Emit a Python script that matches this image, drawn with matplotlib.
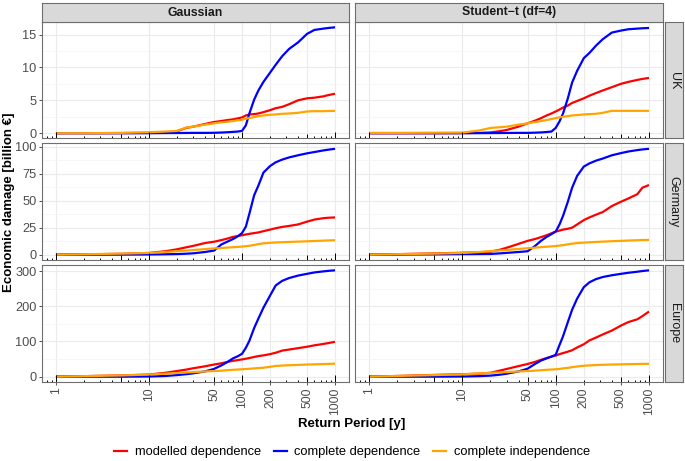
import numpy as np
import matplotlib
matplotlib.use("Agg")
import matplotlib.pyplot as plt
from matplotlib.ticker import FixedLocator, NullLocator, MultipleLocator
from matplotlib.lines import Line2D

plt.rcParams['font.family'] = ['Liberation Sans', 'DejaVu Sans']

# return periods [y]
periods = [1, 2, 5, 10, 15, 20, 25, 30, 40, 50, 60, 70, 80, 90, 100, 110, 120,
           135, 150, 170, 200, 230, 270, 320, 400, 500, 600, 750, 850, 1000]

# UK, Gaussian copula
uk_gauss_mod = [0, 0, 0.02, 0.05, 0.1, 0.3, 0.8, 1.0, 1.4, 1.7, 1.85, 2.0, 2.1, 2.25, 2.4, 2.7, 2.85,
                2.9, 3.0, 3.2, 3.5, 3.8, 4.0, 4.4, 5.0, 5.3, 5.4, 5.6, 5.8, 6.0]
uk_gauss_dep = [0, 0, 0, 0, 0.02, 0.03, 0.04, 0.05, 0.05, 0.06, 0.1, 0.15, 0.2, 0.25, 0.35, 1.2, 3.0,
                5.1, 6.5, 7.8, 9.2, 10.4, 11.7, 12.8, 13.8, 15.1, 15.7, 15.9, 16.0, 16.1]
uk_gauss_ind = [0, 0, 0.05, 0.15, 0.25, 0.35, 0.85, 1.0, 1.3, 1.5, 1.65, 1.75, 1.85, 1.95, 2.05, 2.2, 2.3,
                2.45, 2.6, 2.7, 2.8, 2.85, 2.95, 3.0, 3.1, 3.3, 3.35, 3.35, 3.38, 3.4]
# UK, Student-t copula
uk_t_mod = [0, 0, 0, 0.02, 0.05, 0.12, 0.3, 0.5, 1.0, 1.5, 1.9, 2.3, 2.7, 3.0, 3.3, 3.6, 3.9,
            4.2, 4.6, 4.9, 5.3, 5.7, 6.1, 6.5, 7.0, 7.5, 7.8, 8.1, 8.25, 8.4]
uk_t_dep = [0, 0, 0, 0, 0.01, 0.02, 0.03, 0.04, 0.05, 0.05, 0.08, 0.12, 0.18, 0.25, 0.8, 1.8, 3.0,
            5.3, 7.7, 9.5, 11.4, 12.2, 13.3, 14.3, 15.3, 15.6, 15.8, 15.9, 15.95, 16.0]
uk_t_ind = [0.05, 0.05, 0.08, 0.1, 0.4, 0.8, 0.9, 1.0, 1.3, 1.5, 1.7, 1.85, 2.0, 2.15, 2.3, 2.4, 2.5,
            2.6, 2.7, 2.75, 2.85, 2.9, 2.95, 3.1, 3.4, 3.4, 3.4, 3.4, 3.4, 3.4]

# Germany, Gaussian copula
de_gauss_mod = [0, 0.3, 0.8, 1.6, 3.2, 5, 6.8, 8.2, 10.8, 12, 13.5, 15, 16.5, 17.3, 18, 18.7, 19.3,
                20, 20.6, 21.8, 23.2, 24.5, 25.7, 26.6, 28, 30.6, 32.5, 33.8, 34.2, 34.5]
de_gauss_dep = [0, 0, 0.1, 0.2, 0.4, 0.6, 0.9, 1.3, 2.5, 3.8, 9.5, 12.2, 14.5, 17, 20, 26, 38,
                55, 64, 76, 82, 85.5, 88, 90, 92, 93.8, 95, 96.5, 97.2, 98]
de_gauss_ind = [0, 0.4, 1.0, 1.6, 2.5, 3.3, 3.8, 4.3, 5.2, 5.8, 6.2, 6.6, 6.9, 7.2, 7.5, 7.9, 8.3,
                9.0, 9.8, 10.5, 11.0, 11.3, 11.6, 11.8, 12.1, 12.4, 12.7, 13.0, 13.2, 13.4]
# Germany, Student-t copula
de_t_mod = [0, 0.5, 1.2, 1.8, 2.2, 2.8, 4.5, 6.5, 10, 12.8, 14.5, 16.3, 18, 19.8, 21.4, 22.3, 23.2,
            24, 25, 28, 32, 34.5, 37, 39.5, 45, 49, 52, 56, 62, 64.5]
de_t_dep = [0, 0.1, 0.3, 0.5, 0.6, 0.7, 1.2, 1.7, 2.5, 3.2, 8, 13, 16.5, 19, 21.4, 28, 36,
            49, 62, 73, 81.5, 84.5, 87, 89, 92, 94, 95.5, 96.8, 97.4, 98]
de_t_ind = [0, 0.5, 1.0, 1.6, 2.5, 3.3, 3.9, 4.4, 5.3, 6.0, 6.5, 7.0, 7.4, 7.7, 8.0, 8.4, 8.9,
            9.6, 10.2, 10.8, 11.2, 11.5, 11.8, 12.1, 12.5, 12.8, 13.1, 13.4, 13.6, 13.7]

# Europe, Gaussian copula
eu_gauss_mod = [0, 1.5, 3.5, 6, 11, 16, 20, 24, 29.5, 34.5, 38, 42, 45, 47, 49, 51, 53,
                56, 58.5, 60.5, 64, 68, 74, 77, 81, 85, 89, 93, 95.5, 99]
eu_gauss_dep = [0, 0, 0, 0.5, 2, 4.5, 7, 9.5, 15, 22, 32, 42, 52, 58, 65, 82, 102,
                138, 165, 196, 230, 259, 272, 280, 287, 292, 296, 299, 300.5, 302]
eu_gauss_ind = [0, 1.5, 3.5, 6, 8.5, 10.5, 12, 13, 14.8, 16, 17, 18.5, 19.5, 20.3, 21, 21.8, 22.5,
                23.5, 24.5, 25.5, 28, 30.5, 31.5, 32.5, 33.5, 34.5, 35, 35.8, 36.3, 37]
# Europe, Student-t copula
eu_t_mod = [0, 2, 5, 7, 8.5, 11, 17, 22, 30, 36, 42, 48, 53, 57, 60, 64, 67,
            71, 75, 83, 92, 103, 111, 120, 131, 145, 155, 163, 172, 185]
eu_t_dep = [0, 0, 0, 0.5, 1.5, 3, 5.5, 8.5, 15, 22.7, 36, 46, 52, 57, 62, 90, 115,
            155, 190, 222, 254, 268, 277, 283, 288, 292, 295, 298, 300, 302]
eu_t_ind = [0, 2, 4.5, 6.5, 9, 10.8, 12, 13, 14.8, 16, 17, 18.5, 19.5, 20.3, 21, 22, 23.5,
            25, 27, 29, 31, 32, 33, 33.8, 34.5, 35, 35.5, 36, 36.3, 36.5]

col_labels = ["Gaussian", "Student\u2212t (df=4)"]
row_labels = ["UK", "Germany", "Europe"]
series_labels = ["modelled dependence", "complete dependence", "complete independence"]
series_colors = ["#FF0000", "#0000FF", "#FFA500"]
x_breaks = [1, 10, 50, 100, 200, 500, 1000]
y_steps = [5, 25, 100]

panels = [
    [(uk_gauss_mod, uk_gauss_dep, uk_gauss_ind), (uk_t_mod, uk_t_dep, uk_t_ind)],
    [(de_gauss_mod, de_gauss_dep, de_gauss_ind), (de_t_mod, de_t_dep, de_t_ind)],
    [(eu_gauss_mod, eu_gauss_dep, eu_gauss_ind), (eu_t_mod, eu_t_dep, eu_t_ind)],
]

W, H = 685, 461
fig = plt.figure(figsize=(W / 100, H / 100), dpi=100)


def px_box(x0, y0, x1, y1):
    return [x0 / W, 1 - y1 / H, (x1 - x0) / W, (y1 - y0) / H]


col_x = [(42, 349), (355, 663)]
row_y = [(22, 138.5), (143.5, 260), (265, 382)]
border_col = "#6E6E6E"
strip_fill = "#D9D9D9"

# log ticks like annotation_logticks
log_pos, log_len = [], []
for k in range(-1, 4):
    for m in range(1, 10):
        v = m * 10.0 ** k
        if 10 ** -0.15 <= v <= 10 ** 3.15:
            log_pos.append(v)
            log_len.append(0.058 if m == 1 else (0.039 if m == 5 else 0.02))

for r in range(3):
    for c in range(2):
        x0, x1 = col_x[c]
        y0, y1 = row_y[r]
        ax = fig.add_axes(px_box(x0, y0, x1, y1))
        mod, dep, ind = panels[r][c]
        for vals, colr in zip((mod, dep, ind), series_colors):
            ax.plot(periods, vals, color=colr, lw=1.6, solid_capstyle='butt', zorder=3)
        ax.set_xscale('log')
        ax.set_xlim(10 ** -0.15, 10 ** 3.15)
        ymax = max(max(panels[r][0][1]), max(panels[r][1][1]), max(panels[r][1][0]))
        ax.set_ylim(-0.05 * ymax, 1.05 * ymax)
        ax.xaxis.set_major_locator(FixedLocator(x_breaks))
        ax.xaxis.set_minor_locator(NullLocator())
        ax.yaxis.set_major_locator(MultipleLocator(y_steps[r]))
        ax.yaxis.set_minor_locator(MultipleLocator(y_steps[r] / 2))
        ax.grid(which='major', color='#EBEBEB', lw=0.8, zorder=0)
        ax.grid(which='minor', axis='y', color='#F3F3F3', lw=0.5, zorder=0)
        ax.set_axisbelow(True)
        ax.vlines(log_pos, 0, log_len, transform=ax.get_xaxis_transform(),
                  color='black', lw=0.7, zorder=4)
        for sp in ax.spines.values():
            sp.set_color(border_col)
            sp.set_linewidth(0.8)
        ax.tick_params(which='minor', length=0)
        ax.tick_params(axis='y', length=2.5, width=0.6, color='#333333',
                       labelcolor='#4D4D4D', labelsize=9.2, pad=1.5)
        if c == 1:
            ax.tick_params(axis='y', labelleft=False, length=0)
        if r == 2:
            ax.set_xticklabels([str(b) for b in x_breaks], rotation=90)
            ax.tick_params(axis='x', length=2.5, width=0.6, color='#333333',
                           labelcolor='#4D4D4D', labelsize=8.8, pad=1.5)
        else:
            ax.tick_params(axis='x', labelbottom=False, length=0)

        if r == 0:
            sax = fig.add_axes(px_box(x0, 3, x1, y0))
            sax.set_facecolor(strip_fill)
            sax.set_xticks([])
            sax.set_yticks([])
            for sp in sax.spines.values():
                sp.set_color(border_col)
                sp.set_linewidth(0.8)
            sax.text(0.5, 0.5, col_labels[c], ha='center', va='center',
                     fontsize=8.8, fontweight='bold', color='#1A1A1A',
                     transform=sax.transAxes)
    rax = fig.add_axes(px_box(664.5, row_y[r][0], 683, row_y[r][1]))
    rax.set_facecolor(strip_fill)
    rax.set_xticks([])
    rax.set_yticks([])
    for sp in rax.spines.values():
        sp.set_color(border_col)
        sp.set_linewidth(0.8)
    rax.text(0.5, 0.5, row_labels[r], ha='center', va='center', rotation=270,
             fontsize=9, color='#1A1A1A', transform=rax.transAxes)

fig.text(352 / W, 1 - 424 / H, "Return Period [y]", ha='center', va='center',
         fontsize=9.5, fontweight='bold')
fig.text(9 / W, 1 - 202 / H, "Economic damage [billion \u20ac]", ha='center', va='center',
         rotation=90, fontsize=9.5, fontweight='bold')

handles = [Line2D([0], [0], color=colr, lw=1.6) for colr in series_colors]
fig.legend(handles, series_labels, loc='center', bbox_to_anchor=(352 / W, 1 - 452 / H),
           ncol=3, frameon=False, fontsize=9.3, handlelength=1.0, handletextpad=0.6,
           columnspacing=1.0)

fig.savefig("out.png", dpi=100)
